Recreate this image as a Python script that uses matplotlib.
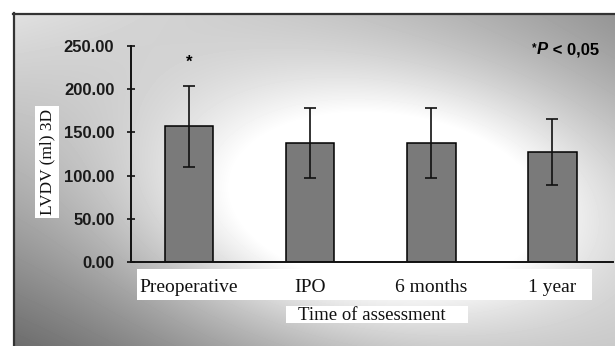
import numpy as np
import matplotlib
matplotlib.use("Agg")
from matplotlib import pyplot as plt
from matplotlib.patches import Rectangle

categories = ['Preoperative', 'IPO', '6 months', '1 year']
means = [157.0, 138.0, 138.0, 127.5]
sds = [46.5, 40.5, 40.5, 38.5]
y_ticks = [0, 50, 100, 150, 200, 250]

W, H = 615, 346
fig = plt.figure(figsize=(W / 100, H / 100), dpi=100)

# background: gray gradient with a white glow in the middle
bg = fig.add_axes([0, 0, 1, 1])
bg.set_xlim(0, W)
bg.set_ylim(H, 0)
bg.axis('off')
X, Y = np.meshgrid(np.arange(W), np.arange(H))
u, v = X / W, Y / H
top = 0.9 * (1 - u) + 0.55 * u
bot = 0.4 * (1 - u) + 0.72 * u
base = top * (1 - v) + bot * v
glow = 0.55 * np.exp(-((X - 380) ** 2 / (2 * 170 ** 2) + (Y - 205) ** 2 / (2 * 95 ** 2)))
g = np.clip(base + glow, 0, 1)
g[:13, :] = 1
g[:, :13] = 1
bg.imshow(g, cmap='gray', vmin=0, vmax=1, extent=(0, W, H, 0), aspect='auto', interpolation='bilinear')
bg.plot([13, W], [13.5, 13.5], color='#333333', lw=1.6)
bg.plot([13.5, 13.5], [13, H], color='#333333', lw=1.6)

# white boxes behind the labels
bg.add_patch(Rectangle((137, 269), 455, 31, color='white', lw=0))
bg.add_patch(Rectangle((286, 306), 182, 17, color='white', lw=0))
bg.add_patch(Rectangle((35, 106), 24, 112, color='white', lw=0))

ax = fig.add_axes([131 / W, 1 - 262 / H, (613 - 131) / W, (262 - 46) / H])
ax.patch.set_alpha(0)
x = np.arange(len(categories))
ax.bar(x, means, width=0.4, color='#7a7a7a', edgecolor='black', linewidth=1.1)
ax.errorbar(x, means, yerr=sds, fmt='none', ecolor='#111111', elinewidth=1.2, capsize=4.5, capthick=1.2)
ax.text(0, 231, '*', ha='center', va='center', fontsize=12, fontweight='bold', family='Liberation Sans')

ax.set_xlim(-0.48, 3.5)
ax.set_ylim(0, 250)
ax.set_yticks(y_ticks)
ax.set_yticklabels(['%.2f' % t for t in y_ticks], fontsize=12, fontweight='bold', family='Liberation Sans', color='#1a1a1a')
ax.tick_params(axis='y', direction='inout', length=6, width=1.1, pad=9)
ax.set_xticks(x)
ax.set_xticklabels(categories, fontsize=14, family='Liberation Serif', color='#111111')
ax.tick_params(axis='x', length=0, pad=12)
for s in ['top', 'right']:
    ax.spines[s].set_visible(False)
for s in ['left', 'bottom']:
    ax.spines[s].set_linewidth(1.4)
    ax.spines[s].set_color('#111111')

bg.text(372, 315, 'Time of assessment', ha='center', va='center', fontsize=13.5, family='Liberation Serif', color='#111111')
bg.text(47, 162, 'LVDV (ml) 3D', ha='center', va='center', rotation=90, fontsize=12.5, family='Liberation Serif', color='#111111')

t1 = bg.text(532, 51, '*', ha='left', va='baseline', fontsize=8.5, fontweight='bold', family='Liberation Sans')
t2 = bg.annotate('P', xy=(1, 0), xycoords=t1, xytext=(0, -2.5), textcoords='offset points', ha='left', va='bottom',
                 fontsize=12, fontweight='bold', fontstyle='italic', family='Liberation Sans')
bg.annotate(' < 0,05', xy=(1, 0), xycoords=t2, ha='left', va='bottom',
            fontsize=12, fontweight='bold', family='Liberation Sans')

fig.savefig('out.png', dpi=100)
